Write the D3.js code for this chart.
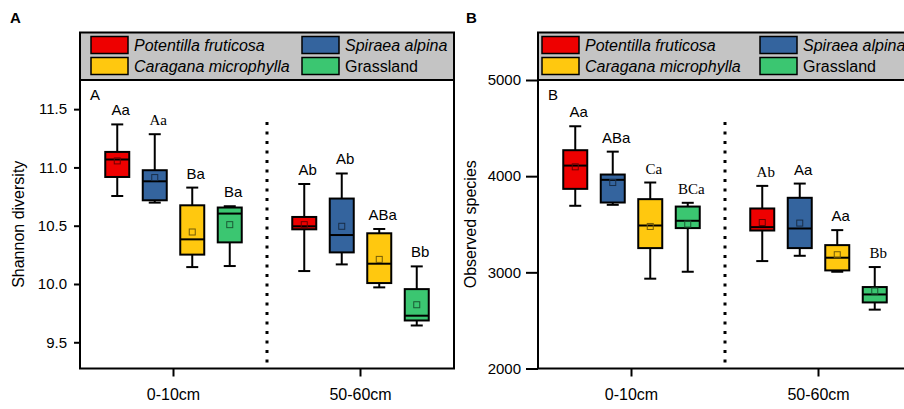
<!DOCTYPE html>
<html>
<head>
<meta charset="utf-8">
<script src="https://cdn.jsdelivr.net/npm/d3@7"></script>
<style>
  body { margin: 0; background: #fff; }
  svg { display: block; font-family: 'Liberation Sans', Arial, sans-serif; }
</style>
</head>
<body>
<svg width="904" height="409"></svg>
<script>
// categories
var depths = ['0-10cm', '50-60cm'];
var species = ['Potentilla fruticosa', 'Spiraea alpina', 'Caragana microphylla', 'Grassland'];

// box stats, order: 0-10cm (P, S, C, G) then 50-60cm (P, S, C, G)
var shannonMin = [10.755, 10.698, 10.145, 10.154, 10.111, 10.168, 9.971, 9.644];
var shannonQ1 = [10.918, 10.718, 10.252, 10.357, 10.469, 10.271, 10.008, 9.687];
var shannonMedian = [11.068, 10.881, 10.383, 10.604, 10.495, 10.420, 10.174, 9.728];
var shannonQ3 = [11.133, 10.976, 10.675, 10.656, 10.575, 10.733, 10.435, 9.956];
var shannonMax = [11.369, 11.285, 10.827, 10.667, 10.858, 10.948, 10.472, 10.151];
var shannonMean = [11.056, 10.913, 10.446, 10.509, 10.509, 10.495, 10.211, 9.822];
var shannonLetters = ['Aa', 'Aa', 'Ba', 'Ba', 'Ab', 'Ab', 'ABa', 'Bb'];
var shannonTicks = [9.5, 10.0, 10.5, 11.0, 11.5];

var observedMin = [3692, 3702, 2934, 3006, 3117, 3172, 3006, 2612];
var observedQ1 = [3868, 3726, 3252, 3460, 3435, 3252, 3020, 2687];
var observedMedian = [4110, 3962, 3487, 3536, 3470, 3456, 3152, 2770];
var observedQ3 = [4270, 4017, 3761, 3684, 3664, 3775, 3283, 2847];
var observedMax = [4519, 4255, 3934, 3723, 3899, 3923, 3439, 3055];
var observedMean = [4097, 3934, 3477, 3502, 3518, 3512, 3183, 2806];
var observedLetters = ['Aa', 'ABa', 'Ca', 'BCa', 'Ab', 'Aa', 'Aa', 'Bb'];
var observedTicks = [2000, 3000, 4000, 5000];

// styling
var colors = ['#ee0000', '#34649e', '#ffc80f', '#3bc671'];
var sans = "'Liberation Sans', Arial, sans-serif";
var serif = "'Liberation Serif', 'Times New Roman', serif";
var shannonLetterSerif = [false, true, false, false, false, false, false, false];
var observedLetterSerif = [false, false, true, true, true, false, false, true];

var svg = d3.select('svg');

function buildRows(mins, q1s, meds, q3s, maxs, means, letters, serifs) {
  return mins.map(function (m, i) {
    return {
      depth: depths[Math.floor(i / 4)],
      sp: species[i % 4],
      color: colors[i % 4],
      min: m, q1: q1s[i], median: meds[i], q3: q3s[i], max: maxs[i], mean: means[i],
      letter: letters[i],
      serif: serifs[i]
    };
  });
}

function drawPanel(p) {
  var left = p.left, top = 80, bottom = 368.5, width = 374, legendTop = 32.5;
  var g = svg.append('g');

  var y = d3.scaleLinear().domain(p.domain).range([bottom, top]);
  var x0 = d3.scaleBand().domain(depths).range([left, left + width]);
  var x1 = d3.scaleBand().domain(species).range([-75, 75]);
  var boxW = 24, capW = 12;

  // panel letter
  g.append('text')
    .attr('x', p.letterX).attr('y', 23)
    .style('font-size', '15px').style('font-weight', 'bold')
    .text(p.letter);

  // legend
  var lg = g.append('g').attr('transform', 'translate(' + left + ',' + legendTop + ')');
  lg.append('rect')
    .attr('width', width).attr('height', top - legendTop)
    .attr('fill', '#c4c4c4').attr('stroke', '#000').attr('stroke-width', 2);
  var item = lg.selectAll('g.item').data(species).enter().append('g')
    .attr('transform', function (d, i) {
      var cx = (i % 2 === 0) ? p.legendX : 222;
      return 'translate(' + cx + ',' + (4 + Math.floor(i / 2) * 21) + ')';
    });
  item.append('rect')
    .attr('width', 37).attr('height', 17)
    .attr('fill', function (d, i) { return colors[i]; })
    .attr('stroke', '#000').attr('stroke-width', 1.5);
  item.append('text')
    .attr('x', 43).attr('y', 14.5)
    .style('font-size', '16px')
    .style('font-style', function (d) { return d === 'Grassland' ? 'normal' : 'italic'; })
    .text(function (d) { return d; });

  // frame
  g.append('rect')
    .attr('x', left).attr('y', top)
    .attr('width', width).attr('height', bottom - top)
    .attr('fill', 'none').attr('stroke', '#000').attr('stroke-width', 2);

  // y axis
  var yAxis = g.append('g')
    .attr('transform', 'translate(' + left + ',0)')
    .call(d3.axisLeft(y).tickValues(p.ticks).tickFormat(p.fmt)
      .tickSize(p.tickLen).tickSizeOuter(0).tickPadding(p.tickPad));
  yAxis.select('.domain').remove();
  yAxis.selectAll('line').attr('stroke-width', 2);
  yAxis.selectAll('text').style('font-size', '15px').style('font-family', sans);

  g.append('text')
    .attr('transform', 'translate(' + p.titleX + ',' + ((top + bottom) / 2) + ') rotate(-90)')
    .attr('text-anchor', 'middle')
    .style('font-size', '16px')
    .text(p.title);

  // x axis
  var xAxis = g.append('g')
    .attr('transform', 'translate(0,' + bottom + ')')
    .call(d3.axisBottom(x0).tickSize(8).tickSizeOuter(0).tickPadding(12));
  xAxis.select('.domain').remove();
  xAxis.selectAll('line').attr('stroke-width', 2);
  xAxis.selectAll('text').style('font-size', '16px').style('font-family', sans);

  // inner label
  g.append('text')
    .attr('x', left + 10).attr('y', 100)
    .style('font-size', '15px')
    .text(p.letter);

  // dotted divider
  var divX = x0('50-60cm');
  g.append('line')
    .attr('x1', divX).attr('x2', divX)
    .attr('y1', 122).attr('y2', bottom - 2)
    .attr('stroke', '#000').attr('stroke-width', 3)
    .attr('stroke-dasharray', '3,6.5');

  // boxes
  var box = g.selectAll('g.box').data(p.rows).enter().append('g')
    .attr('class', 'box')
    .attr('transform', function (d) {
      return 'translate(' + (x0(d.depth) + x0.bandwidth() / 2 + x1(d.sp) + x1.bandwidth() / 2) + ',0)';
    });

  box.append('line')
    .attr('y1', function (d) { return y(d.min); })
    .attr('y2', function (d) { return y(d.max); })
    .attr('stroke', '#000').attr('stroke-width', 2);
  box.selectAll('line.cap')
    .data(function (d) { return [d.min, d.max]; })
    .enter().append('line')
    .attr('x1', -capW / 2).attr('x2', capW / 2)
    .attr('y1', function (v) { return y(v); })
    .attr('y2', function (v) { return y(v); })
    .attr('stroke', '#000').attr('stroke-width', 2);
  box.append('rect')
    .attr('x', -boxW / 2).attr('width', boxW)
    .attr('y', function (d) { return y(d.q3); })
    .attr('height', function (d) { return y(d.q1) - y(d.q3); })
    .attr('fill', function (d) { return d.color; })
    .attr('stroke', '#000').attr('stroke-width', 2);
  box.append('line')
    .attr('x1', -boxW / 2).attr('x2', boxW / 2)
    .attr('y1', function (d) { return y(d.median); })
    .attr('y2', function (d) { return y(d.median); })
    .attr('stroke', '#000').attr('stroke-width', 2);
  box.append('rect')
    .attr('x', -3).attr('width', 6).attr('height', 6)
    .attr('y', function (d) { return y(d.mean) - 3; })
    .attr('fill', 'none')
    .attr('stroke', function (d) { return d3.color(d.color).darker(2.2); })
    .attr('stroke-width', 1);
  box.append('text')
    .attr('x', 3.5)
    .attr('y', function (d) { return y(d.max) - 9; })
    .attr('text-anchor', 'middle')
    .style('font-size', '15px')
    .style('font-family', function (d) { return d.serif ? serif : sans; })
    .text(function (d) { return d.letter; });
}

drawPanel({
  left: 80, letter: 'A', letterX: 10, legendX: 11,
  domain: [9.275, 11.75], ticks: shannonTicks, fmt: d3.format('.1f'),
  tickLen: 6, tickPad: 7, title: 'Shannon diversity', titleX: 24,
  rows: buildRows(shannonMin, shannonQ1, shannonMedian, shannonQ3, shannonMax, shannonMean,
    shannonLetters, shannonLetterSerif)
});

drawPanel({
  left: 538, letter: 'B', letterX: 466, legendX: 4,
  domain: [2000, 5000], ticks: observedTicks, fmt: d3.format('d'),
  tickLen: 12, tickPad: 5, title: 'Observed species', titleX: 476,
  rows: buildRows(observedMin, observedQ1, observedMedian, observedQ3, observedMax, observedMean,
    observedLetters, observedLetterSerif)
});
</script>
</body>
</html>
